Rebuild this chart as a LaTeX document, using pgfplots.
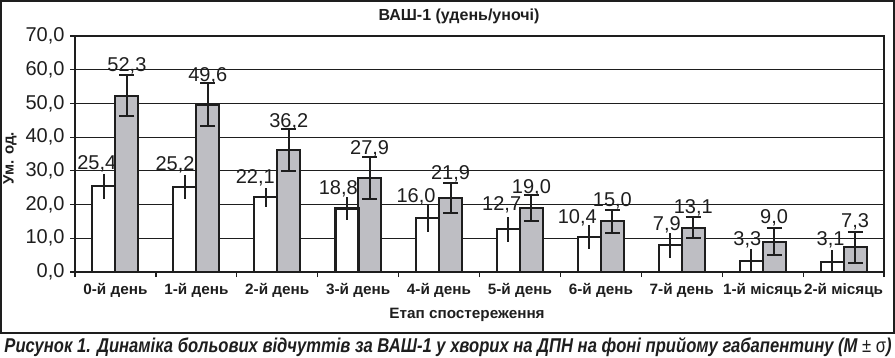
\documentclass[border=0pt]{standalone}
\usepackage{pgfplots}
\usepackage{pgfplotstable}
\pgfplotsset{compat=1.18}
\usepackage{fontspec}
\setmainfont{Liberation Sans}
\newfontfamily\xtfont[FakeStretch=1.02]{Liberation Sans}
\newfontfamily\capfont[FakeStretch=0.83]{Liberation Sans}
\definecolor{barg}{RGB}{190,190,195}
\definecolor{ink}{RGB}{30,30,30}

\pgfplotstableread{
x xw xg w we g ge
0 -0.142 0.142 25.4 3.7 52.3 6.1
1 0.858 1.142 25.2 3.6 49.6 6.4
2 1.858 2.142 22.1 2.9 36.2 6.1
3 2.858 3.142 18.8 3.5 27.9 6.1
4 3.858 4.142 16.0 4.2 21.9 4.5
5 4.858 5.142 12.7 3.7 19.0 3.8
6 5.858 6.142 10.4 3.6 15.0 3.3
7 6.858 7.142 7.9 3.7 13.1 3.1
8 7.858 8.142 3.3 3.6 9.0 4.1
9 8.858 9.142 3.1 3.4 7.3 4.5
}\data

\pgfplotstableread{
x y l
-0.231 32.6 25,4
0.737 32.2 25,2
1.728 28.3 22,1
2.755 25.0 18,8
3.716 22.8 16,0
4.774 20.2 12,7
5.708 16.4 10,4
6.815 14.4 7,9
7.810 10.0 3,3
8.840 10.0 3,1
}\labw

\pgfplotstableread{
x y l
0.142 61.6 52,3
1.142 58.7 49,6
2.142 44.8 36,2
3.142 36.9 27,9
4.142 29.5 21,9
5.142 25.3 19,0
6.142 21.4 15,0
7.142 19.4 13,1
8.142 16.6 9,0
9.142 15.4 7,3
}\labg

\begin{document}
\begin{tikzpicture}[x=1bp,y=1bp]
\path[use as bounding box] (0,0) rectangle (895,357);
\draw[line width=1.5bp, ink] (1,24) rectangle (894,356);
\begin{axis}[
  at={(75bp,85bp)}, anchor=south west,
  scale only axis, width=809bp, height=236bp,
  xmin=-0.5, xmax=9.5, ymin=0, ymax=70,
  ytick={0,10,...,70},
  ymajorgrids, grid style={line width=1bp, ink},
  axis line style={line width=2bp, ink},
  xtick={-0.5,0.5,1.5,2.5,3.5,4.5,5.5,6.5,7.5,8.5,9.5},
  x tick label as interval,
  xticklabels={0-й день,1-й день,2-й день,3-й день,4-й день,5-й день,6-й день,7-й день,1-й місяць,2-й місяць},
  tick align=outside, major tick length=5bp,
  tick style={line width=1.2bp, ink},
  xtick pos=bottom, ytick pos=left,
  /pgf/number format/.cd, fixed, fixed zerofill, precision=1, use comma, assume math mode=true,
  /pgfplots/.cd,
  yticklabel style={font=\fontsize{20bp}{24bp}\selectfont, text=ink, xshift=-2bp},
  xticklabel style={font=\xtfont\bfseries\fontsize{15bp}{18bp}\selectfont, text=ink, anchor=base, yshift=-17bp},
  every axis plot/.append style={line width=2bp},
]
\addplot[ybar, bar width=0.284, bar shift=-0.142, fill=white, draw=ink]
  table[x=x, y=w] {\data};
\addplot[ybar, bar width=0.284, bar shift=0.142, fill=barg, draw=ink]
  table[x=x, y=g] {\data};
\addplot[ybar, bar width=0.284, bar shift=-0.142, fill=white, draw=ink, line width=3bp]
  coordinates {(3,18.8)};
\addplot[draw=none, mark=none,
  error bars/.cd, y dir=both, y explicit, error mark=none,
  error bar style={line width=2bp, ink}]
  table[x=xw, y=w, y error=we] {\data};
\addplot[draw=none, mark=none,
  error bars/.cd, y dir=both, y explicit, error mark=-,
  error bar style={line width=2bp, ink},
  error mark options={rotate=90, line width=2bp, mark size=7.5bp, ink}]
  table[x=xg, y=g, y error=ge] {\data};
\addplot[draw=none, mark=none, nodes near coords, point meta=explicit symbolic,
  nodes near coords style={anchor=center, inner sep=0pt, text depth=0pt, text=ink, font=\fontsize{20bp}{24bp}\selectfont}]
  table[x=x, y=y, meta=l] {\labw};
\addplot[draw=none, mark=none, nodes near coords, point meta=explicit symbolic,
  nodes near coords style={anchor=center, inner sep=0pt, text depth=0pt, text=ink, font=\fontsize{20bp}{24bp}\selectfont}]
  table[x=x, y=y, meta=l] {\labg};
\end{axis}
\node[anchor=base, text=ink, font=\bfseries\fontsize{16bp}{19bp}\selectfont] at (459,337) {ВАШ-1 (удень/уночі)};
\node[rotate=90, anchor=base, text=ink, font=\bfseries\fontsize{15bp}{18bp}\selectfont] at (13.5,199) {Ум. од.};
\node[anchor=base, text=ink, font=\xtfont\bfseries\fontsize{15bp}{18bp}\selectfont] at (467,39) {Етап спостереження};
\node[anchor=base, text=ink, font=\capfont\bfseries\itshape\fontsize{20bp}{24bp}\selectfont] at (448,4.3) {Рисунок 1. Динаміка больових відчуттів за ВАШ-1 у хворих на ДПН на фоні прийому габапентину (M {\upshape\mdseries ±} {\upshape\mdseries σ})};
\end{tikzpicture}
\end{document}
